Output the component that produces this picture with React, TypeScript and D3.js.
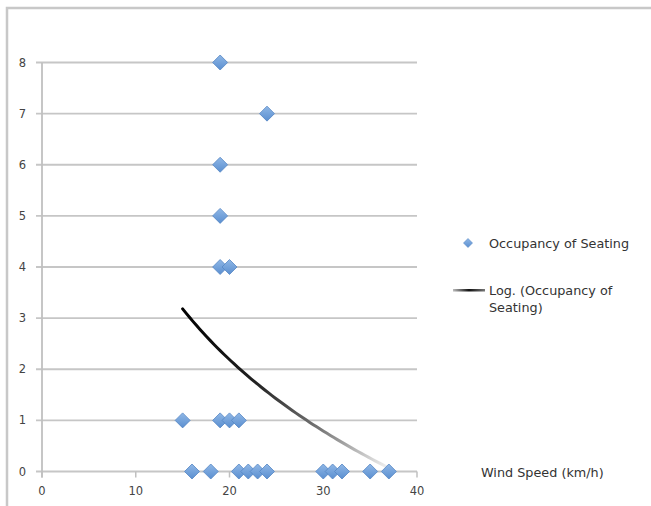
import { useEffect, useRef } from 'react';
import * as d3 from 'd3';

// Wind speed (km/h) vs occupancy of seating
const windSpeed = [19, 24, 19, 19, 19, 20, 15, 19, 20, 21, 16, 18, 21, 22, 23, 24, 30, 31, 32, 35, 37];
const occupancy = [8, 7, 6, 5, 4, 4, 1, 1, 1, 1, 0, 0, 0, 0, 0, 0, 0, 0, 0, 0, 0];
const xTicks = [0, 10, 20, 30, 40];
const yTicks = [0, 1, 2, 3, 4, 5, 6, 7, 8];

const W = 651;
const H = 506;
const FONT = '"DejaVu Sans", Verdana, sans-serif';
const LABEL_SIZE = 12.8;

// least squares fit y = a*ln(x) + b, like the spreadsheet's Log. trendline
function logFit(xs: number[], ys: number[]) {
  const u = xs.map((x) => Math.log(x));
  const mu = d3.mean(u) as number;
  const my = d3.mean(ys) as number;
  let sxy = 0;
  let sxx = 0;
  u.forEach((v, i) => {
    sxy += (v - mu) * (ys[i] - my);
    sxx += (v - mu) * (v - mu);
  });
  const a = sxy / sxx;
  return { a, b: my - a * mu };
}

export default function App() {
  const svgRef = useRef<SVGSVGElement>(null);

  useEffect(() => {
    const svg = d3.select(svgRef.current);
    svg.selectAll('*').remove();

    const x = d3.scaleLinear().domain([0, 40]).range([42, 417]);
    const y = d3.scaleLinear().domain([0, 8]).range([471.5, 62.5]);

    // outer frame
    svg.append('rect').attr('width', W).attr('height', H).attr('fill', '#fff');
    svg
      .append('path')
      .attr('d', `M7,${H + 2}V8H${W + 2}`)
      .attr('fill', 'none')
      .attr('stroke', '#c8c8c8')
      .attr('stroke-width', 2.5);

    const defs = svg.append('defs');

    // gridlines
    svg
      .append('g')
      .selectAll('line')
      .data(yTicks)
      .enter()
      .append('line')
      .attr('x1', 36)
      .attr('x2', x(40))
      .attr('y1', (d) => y(d))
      .attr('y2', (d) => y(d))
      .attr('stroke', '#c6c6c6')
      .attr('stroke-width', 1.8);

    // y axis line
    svg
      .append('line')
      .attr('x1', x(0))
      .attr('x2', x(0))
      .attr('y1', y(8))
      .attr('y2', y(0) + 6)
      .attr('stroke', '#c0c0c0')
      .attr('stroke-width', 1.8);

    // x tick marks
    svg
      .append('g')
      .selectAll('line')
      .data(xTicks)
      .enter()
      .append('line')
      .attr('x1', (d) => x(d))
      .attr('x2', (d) => x(d))
      .attr('y1', y(0))
      .attr('y2', y(0) + 6)
      .attr('stroke', '#c0c0c0')
      .attr('stroke-width', 1.5);

    svg
      .append('g')
      .selectAll('text')
      .data(yTicks)
      .enter()
      .append('text')
      .attr('x', 26)
      .attr('y', (d) => y(d))
      .attr('dy', '0.35em')
      .attr('text-anchor', 'end')
      .attr('font-family', FONT)
      .attr('font-size', 11.5)
      .attr('fill', '#444')
      .text((d) => d);

    svg
      .append('g')
      .selectAll('text')
      .data(xTicks)
      .enter()
      .append('text')
      .attr('x', (d) => x(d))
      .attr('y', 495)
      .attr('text-anchor', 'middle')
      .attr('font-family', FONT)
      .attr('font-size', 11.5)
      .attr('fill', '#444')
      .text((d) => d);

    svg
      .append('text')
      .attr('x', 481)
      .attr('y', 477)
      .attr('font-family', FONT)
      .attr('font-size', LABEL_SIZE)
      .attr('fill', '#333')
      .text('Wind Speed (km/h)');

    // log trendline
    const { a, b } = logFit(windSpeed, occupancy);
    const [x0, x1] = d3.extent(windSpeed) as [number, number];
    const trend = d3.range(0, 61).map((i) => {
      const xv = x0 + ((x1 - x0) * i) / 60;
      return [xv, a * Math.log(xv) + b] as [number, number];
    });
    const tg = defs
      .append('linearGradient')
      .attr('id', 'trendGrad')
      .attr('gradientUnits', 'userSpaceOnUse')
      .attr('x1', x(x0))
      .attr('y1', y(trend[0][1]))
      .attr('x2', x(x1))
      .attr('y2', y(trend[60][1]));
    [
      [0, '#000'],
      [0.4, '#222'],
      [0.7, '#777'],
      [1, '#f2f2f2'],
    ].forEach(([o, c]) => tg.append('stop').attr('offset', o).attr('stop-color', c));
    svg
      .append('path')
      .attr('d', d3.line().x((d) => x(d[0])).y((d) => y(d[1]))(trend))
      .attr('fill', 'none')
      .attr('stroke', 'url(#trendGrad)')
      .attr('stroke-width', 3)
      .attr('stroke-linecap', 'round');

    // markers
    const mg = defs
      .append('linearGradient')
      .attr('id', 'markGrad')
      .attr('x1', 0)
      .attr('y1', 0)
      .attr('x2', 0)
      .attr('y2', 1);
    mg.append('stop').attr('offset', 0).attr('stop-color', '#8fb7e6');
    mg.append('stop').attr('offset', 1).attr('stop-color', '#5b8fd0');
    const diamond = (cx: number, cy: number, r: number) =>
      `M${cx},${cy - r}L${cx + r},${cy}L${cx},${cy + r}L${cx - r},${cy}Z`;

    svg
      .append('g')
      .selectAll('path')
      .data(windSpeed.map((w, i) => [w, occupancy[i]]))
      .enter()
      .append('path')
      .attr('d', (d) => diamond(x(d[0]), y(d[1]), 7.5))
      .attr('fill', 'url(#markGrad)')
      .attr('stroke', '#5586c4')
      .attr('stroke-width', 0.8);

    // legend
    svg.append('path').attr('d', diamond(468, 243, 4.5)).attr('fill', 'url(#markGrad)').attr('stroke', '#5586c4').attr('stroke-width', 0.6);
    svg
      .append('text')
      .attr('x', 489)
      .attr('y', 247.5)
      .attr('font-family', FONT)
      .attr('font-size', LABEL_SIZE)
      .attr('fill', '#333')
      .text('Occupancy of Seating');

    const lg = defs.append('linearGradient').attr('id', 'legGrad');
    lg.append('stop').attr('offset', 0).attr('stop-color', '#bbb');
    lg.append('stop').attr('offset', 0.5).attr('stop-color', '#111');
    lg.append('stop').attr('offset', 1).attr('stop-color', '#777');
    svg
      .append('rect')
      .attr('x', 453)
      .attr('y', 289)
      .attr('width', 32)
      .attr('height', 2.5)
      .attr('fill', 'url(#legGrad)');
    const lt = svg
      .append('text')
      .attr('font-family', FONT)
      .attr('font-size', LABEL_SIZE)
      .attr('fill', '#333');
    lt.append('tspan').attr('x', 489).attr('y', 295).text('Log. (Occupancy of');
    lt.append('tspan').attr('x', 489).attr('y', 312).text('Seating)');
  }, []);

  return (
    <div style={{ position: 'absolute', left: 0, top: 0 }}>
      <svg ref={svgRef} width={W} height={H} viewBox={`0 0 ${W} ${H}`} style={{ display: 'block' }} />
    </div>
  );
}
